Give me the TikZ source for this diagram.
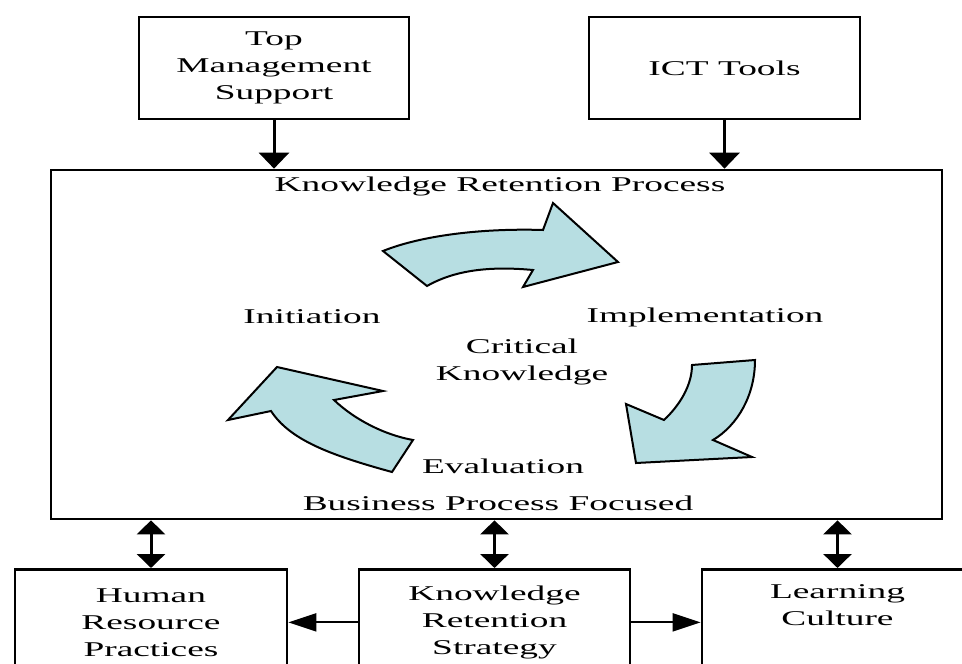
\documentclass[tikz,border=0pt]{standalone}
\usepackage{fontspec}
\setmainfont{Liberation Serif}
\usetikzlibrary{arrows.meta}
\definecolor{arrowfill}{RGB}{183,222,226}
\newcommand{\sx}[1]{\scalebox{1.78}[1]{#1}}
\tikzset{
  box/.style={draw, line width=2.7pt, inner sep=0pt, align=center, font=\fontsize{21}{27}\selectfont},
  txt/.style={inner sep=0pt, align=center, font=\fontsize{21}{27}\selectfont},
  vhead/.style={line width=3pt, -{Triangle[width=30pt,length=16pt]}},
  dhead/.style={line width=3pt, {Triangle[width=28pt,length=14pt]}-{Triangle[width=28pt,length=14pt]}},
  hhead/.style={line width=2pt, -{Triangle[width=18pt,length=28pt]}},
  cyc/.style={draw, line width=2pt, fill=arrowfill, line join=miter}
}
\begin{document}
\begin{tikzpicture}[x=1pt,y=-1pt]
\useasboundingbox (0,0) rectangle (962,664);
\clip (0,0) rectangle (962,664);
% top boxes
\node[box, minimum width=270pt, minimum height=102pt] (top) at (274,68)
  {\sx{Top}\\\sx{Management}\\\sx{Support}};
\node[box, minimum width=271pt, minimum height=102pt] (ict) at (724.5,68) {\sx{ICT Tools}};
% main box
\node[box, minimum width=891pt, minimum height=349pt] (main) at (496.5,344.5) {};
\node[txt] (krp) at (500,186) {\sx{Knowledge Retention Process}};
\node[txt] (bpf) at (498,503) {\sx{Business Process Focused}};
\node[txt] (ini) at (312,317) {\sx{Initiation}};
\node[txt] (imp) at (705,317) {\sx{Implementation}};
\node[txt] (ck) at (522,362) {\sx{Critical}\\\sx{Knowledge}};
\node[txt] (eva) at (503,466) {\sx{Evaluation}};
% curved cycle arrows
\path[cyc] (383,251) .. controls (420,236) and (480,228) .. (543,230) -- (553,203) -- (618,262)
  -- (523,287) -- (533,270) .. controls (490,266) and (455,270) .. (427,286) -- cycle;
\path[cyc] (692,365) -- (755,360) .. controls (755,395) and (738,425) .. (713,440) -- (752,457)
  -- (636,463) -- (626,404) -- (664,420) .. controls (680,405) and (692,385) .. (692,365) -- cycle;
\path[cyc] (277,367) -- (383,391) -- (334,400) .. controls (355,420) and (385,435) .. (413,440)
  -- (392,472) .. controls (330,455) and (290,440) .. (271,411) -- (228,420) -- cycle;
% bottom boxes
\node[box, minimum width=272pt, minimum height=106pt, anchor=north] (hr) at (151,568)
  {\sx{Human}\\\sx{Resource}\\\sx{Practices}};
\node[box, minimum width=271pt, minimum height=106pt, anchor=north] (krs) at (494.5,568)
  {\sx{Knowledge}\\\sx{Retention}\\\sx{Strategy}};
\node[box, minimum width=271pt, minimum height=106pt, anchor=north] (lc) at (837.5,568)
  {\sx{Learning}\\\sx{Culture}\\\strut};
% connectors
\draw[vhead] (top.south) -- (top.south |- main.north);
\draw[vhead] (ict.south) -- (ict.south |- main.north);
\draw[dhead] (hr.north |- main.south) -- (hr.north);
\draw[dhead] (krs.north |- main.south) -- (krs.north);
\draw[dhead] (lc.north |- main.south) -- (lc.north);
\draw[hhead] (krs.west) -- (hr.east);
\draw[hhead] (krs.east) -- (lc.west);
\end{tikzpicture}
\end{document}
